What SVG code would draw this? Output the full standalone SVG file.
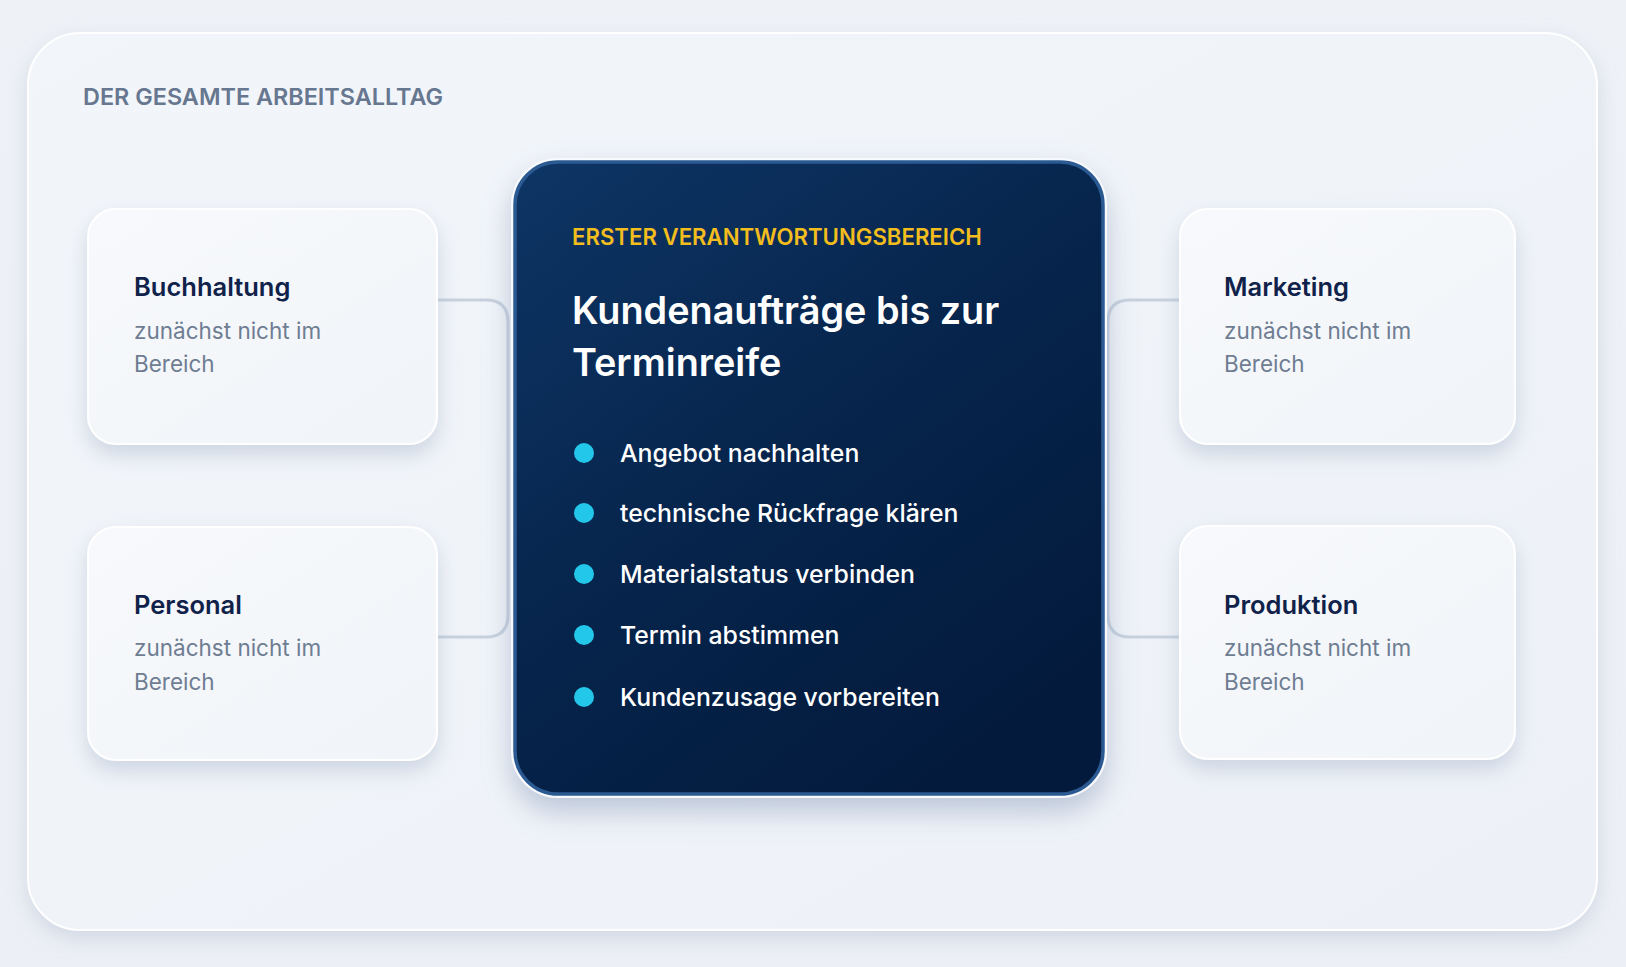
<svg xmlns="http://www.w3.org/2000/svg" width="1626" height="967" viewBox="0 0 1626 967">
  <defs>
    <linearGradient id="bg" x1="0" y1="0" x2="0" y2="1">
      <stop offset="0" stop-color="#eef1f6"/>
      <stop offset="1" stop-color="#eceff5"/>
    </linearGradient>
    <linearGradient id="panel" x1="0" y1="0" x2="1" y2="1">
      <stop offset="0" stop-color="#f2f5f9"/>
      <stop offset="1" stop-color="#edf1f7"/>
    </linearGradient>
    <linearGradient id="card" x1="0" y1="0" x2="1" y2="1">
      <stop offset="0" stop-color="#f7f9fc"/>
      <stop offset="1" stop-color="#f1f4f8"/>
    </linearGradient>
    <linearGradient id="main" x1="0" y1="0" x2="0.7" y2="1">
      <stop offset="0" stop-color="#0e3565"/>
      <stop offset="0.55" stop-color="#06244b"/>
      <stop offset="1" stop-color="#031a3c"/>
    </linearGradient>
    <filter id="shPanel" x="-5%" y="-5%" width="110%" height="115%">
      <feDropShadow dx="0" dy="8" stdDeviation="10" flood-color="#a9b7cb" flood-opacity="0.4"/>
    </filter>
    <filter id="shCard" x="-20%" y="-20%" width="140%" height="150%">
      <feDropShadow dx="0" dy="10" stdDeviation="10" flood-color="#9cadc6" flood-opacity="0.42"/>
    </filter>
    <filter id="shMain" x="-15%" y="-15%" width="130%" height="135%">
      <feDropShadow dx="0" dy="14" stdDeviation="14" flood-color="#7f93b3" flood-opacity="0.45"/>
    </filter>
    <style>
      .side{fill:url(#card);stroke:#ffffff;stroke-width:2;filter:url(#shCard)}
      .title{font-family:Inter,"Liberation Sans",sans-serif;font-weight:600;font-size:25.5px;fill:#10224a}
      .sub{font-family:Inter,"Liberation Sans",sans-serif;font-weight:400;font-size:22.5px;fill:#6e7d92}
      .conn{fill:none;stroke:#c7d1de;stroke-width:3;stroke-linecap:round}
      .dot{fill:#22c7ea}
      .item{font-family:Inter,"Liberation Sans",sans-serif;font-weight:500;font-size:24.8px;fill:#ffffff}
    </style>
  </defs>

  <rect x="0" y="0" width="1626" height="967" fill="url(#bg)"/>

  <g id="panel-frame">
    <rect x="28" y="33" width="1569" height="897" rx="52" fill="url(#panel)" stroke="#ffffff" stroke-width="2" filter="url(#shPanel)"/>
    <text x="83" y="105" font-family="Inter,'Liberation Sans',sans-serif" font-weight="600" font-size="23.4" fill="#66778f">DER GESAMTE ARBEITSALLTAG</text>
  </g>

  <g id="connectors">
    <path class="conn" d="M437 300 H486 Q508 300 508 322 V615 Q508 637 486 637 H437"/>
    <path class="conn" d="M1180 300 H1130 Q1108 300 1108 322 V615 Q1108 637 1130 637 H1180"/>
  </g>

  <g id="node-buchhaltung">
    <rect class="side" x="88" y="209" width="349" height="235" rx="28"/>
    <text class="title" x="134" y="296">Buchhaltung</text>
    <text class="sub" x="134" y="339">zunächst nicht im</text>
    <text class="sub" x="134" y="372">Bereich</text>
  </g>

  <g id="node-personal">
    <rect class="side" x="88" y="527" width="349" height="233" rx="28"/>
    <text class="title" x="134" y="614">Personal</text>
    <text class="sub" x="134" y="656">zunächst nicht im</text>
    <text class="sub" x="134" y="690">Bereich</text>
  </g>

  <g id="node-marketing">
    <rect class="side" x="1180" y="209" width="335" height="235" rx="28"/>
    <text class="title" x="1224" y="296">Marketing</text>
    <text class="sub" x="1224" y="339">zunächst nicht im</text>
    <text class="sub" x="1224" y="372">Bereich</text>
  </g>

  <g id="node-produktion">
    <rect class="side" x="1180" y="526" width="335" height="233" rx="28"/>
    <text class="title" x="1224" y="614">Produktion</text>
    <text class="sub" x="1224" y="656">zunächst nicht im</text>
    <text class="sub" x="1224" y="690">Bereich</text>
  </g>

  <g id="node-main">
    <rect x="511" y="158" width="596" height="640" rx="47" fill="#f7f9fc" filter="url(#shMain)"/>
    <rect x="515" y="162" width="588" height="632" rx="43" fill="url(#main)" stroke="#2b5a93" stroke-width="3.5"/>
    <text x="572" y="245" font-family="Inter,'Liberation Sans',sans-serif" font-weight="600" font-size="22.2" fill="#f2bd1d">ERSTER VERANTWORTUNGSBEREICH</text>
    <text x="572" y="324" font-family="Inter,'Liberation Sans',sans-serif" font-weight="600" font-size="37.8" fill="#ffffff">Kundenaufträge bis zur</text>
    <text x="572" y="376" font-family="Inter,'Liberation Sans',sans-serif" font-weight="600" font-size="37.8" fill="#ffffff">Terminreife</text>
    <circle class="dot" cx="584" cy="453" r="10"/>
    <text class="item" x="620" y="462">Angebot nachhalten</text>
    <circle class="dot" cx="584" cy="513" r="10"/>
    <text class="item" x="620" y="522">technische Rückfrage klären</text>
    <circle class="dot" cx="584" cy="574" r="10"/>
    <text class="item" x="620" y="583">Materialstatus verbinden</text>
    <circle class="dot" cx="584" cy="635" r="10"/>
    <text class="item" x="620" y="644">Termin abstimmen</text>
    <circle class="dot" cx="584" cy="697" r="10"/>
    <text class="item" x="620" y="706">Kundenzusage vorbereiten</text>
  </g>
</svg>
